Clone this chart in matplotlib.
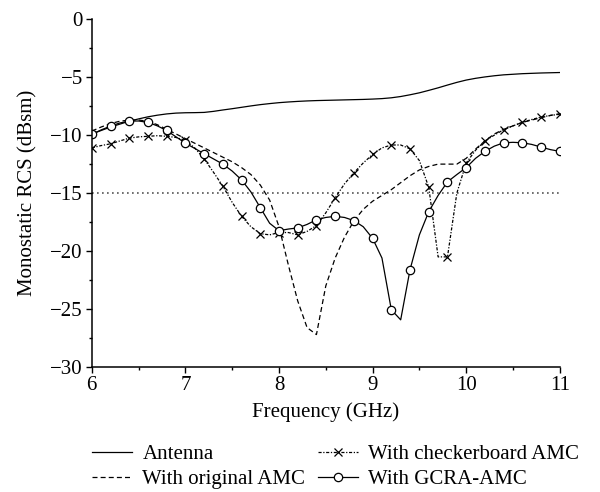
import numpy as np
import matplotlib
matplotlib.use('Agg')
from matplotlib import pyplot as plt
from matplotlib.ticker import MultipleLocator

plt.rcParams['font.family'] = ['Liberation Serif', 'DejaVu Serif']
plt.rcParams['axes.unicode_minus'] = True

# frequency grid in GHz (0.1 GHz steps), markers drawn every 0.2 GHz
freq = np.round(np.arange(6.0, 11.001, 0.1), 1)

antenna = [-9.9, -9.6, -9.3, -9.05, -8.8, -8.6, -8.42, -8.28, -8.17, -8.1,
           -8.07, -8.06, -8.04, -7.95, -7.83, -7.72, -7.6, -7.48, -7.37, -7.28,
           -7.2, -7.14, -7.09, -7.05, -7.02, -7.0, -6.98, -6.96, -6.94, -6.92,
           -6.89, -6.85, -6.78, -6.67, -6.52, -6.35, -6.14, -5.92, -5.68, -5.45,
           -5.25, -5.1, -4.98, -4.88, -4.8, -4.75, -4.7, -4.67, -4.64, -4.62,
           -4.6]

original_amc = [-9.65, -9.3, -9.0, -8.8, -8.7, -8.7, -8.8, -9.1, -9.5, -9.9,
                -10.3, -10.7, -11.1, -11.5, -11.9, -12.3, -12.8, -13.4, -14.3, -15.6,
                -17.9, -21.2, -24.3, -26.6, -27.2, -23.0, -20.6, -18.8, -17.4, -16.4,
                -15.7, -15.2, -14.7, -14.1, -13.5, -13.0, -12.7, -12.5, -12.5, -12.5,
                -12.0, -11.2, -10.5, -9.9, -9.5, -9.2, -8.9, -8.7, -8.5, -8.3,
                -8.15]

checker_amc = [-11.1, -10.9, -10.75, -10.5, -10.26, -10.15, -10.1, -10.05, -10.1, -10.2,
               -10.46, -11.1, -12.04, -13.2, -14.4, -15.8, -17.0, -17.9, -18.5, -18.6,
               -18.4, -18.4, -18.6, -18.3, -17.8, -16.7, -15.4, -14.2, -13.25, -12.4,
               -11.67, -11.1, -10.85, -10.85, -11.18, -12.2, -14.5, -20.5, -20.5, -15.0,
               -12.4, -11.3, -10.5, -10.0, -9.53, -9.2, -8.9, -8.65, -8.44, -8.3,
               -8.2]

gcra_amc = [-9.94, -9.55, -9.22, -8.95, -8.79, -8.78, -8.9, -9.2, -9.6, -10.15,
            -10.69, -11.15, -11.6, -12.05, -12.5, -13.1, -13.86, -14.9, -16.25, -17.6,
            -18.24, -18.1, -18.0, -17.7, -17.3, -17.1, -17.0, -17.1, -17.37, -17.9,
            -18.9, -20.6, -25.06, -25.93, -21.6, -18.6, -16.6, -15.2, -14.03, -13.4,
            -12.8, -12.0, -11.4, -10.95, -10.66, -10.62, -10.66, -10.8, -11.03, -11.25,
            -11.4]

reference_level = -15

fig = plt.figure(figsize=(6, 4.92), dpi=100)
ax = fig.add_axes([0.153, 0.254, 0.78, 0.707])

lw = 0.9
ax.axhline(reference_level, color='#555555', ls=(0, (1, 2)), lw=1.2, zorder=1)
ax.plot(freq, antenna, color='k', lw=lw, label='Antenna')
ax.plot(freq, original_amc, color='k', lw=lw, ls=(0, (4, 2.5)), label='With original AMC')
ax.plot(freq, checker_amc, color='k', lw=lw, ls=(0, (2.5, 1.3, 1, 1.3)), marker='x',
        markersize=6, markeredgewidth=0.9, markevery=2, label='With checkerboard AMC')
ax.plot(freq, gcra_amc, color='k', lw=lw, marker='o', markersize=6, markerfacecolor='white',
        markeredgewidth=0.9, markevery=2, label='With GCRA-AMC')

ax.set_xlim(6, 11)
ax.set_ylim(-30, 0)
ax.xaxis.set_major_locator(MultipleLocator(1))
ax.xaxis.set_minor_locator(MultipleLocator(0.5))
ax.yaxis.set_major_locator(MultipleLocator(5))
ax.yaxis.set_minor_locator(MultipleLocator(2.5))
ax.tick_params(which='major', direction='out', length=4.5, width=1.0, labelsize=15, pad=2)
ax.tick_params(which='minor', direction='out', length=2.2, width=1.0)

for side in ['top', 'right']:
    ax.spines[side].set_visible(False)
for side in ['left', 'bottom']:
    ax.spines[side].set_linewidth(1.1)
    ax.spines[side].set_clip_on(False)

ax.set_xlabel('Frequency (GHz)', fontsize=15, labelpad=5)
ax.set_ylabel('Monostatic RCS (dBsm)', fontsize=15, labelpad=9)

ax.legend(loc='upper left', bbox_to_anchor=(-0.018, -0.198), ncol=2, frameon=False,
          fontsize=15, handlelength=1.95, handletextpad=0.48, columnspacing=0.6,
          labelspacing=0.27, borderaxespad=0)

fig.savefig('out.png', dpi=100)
